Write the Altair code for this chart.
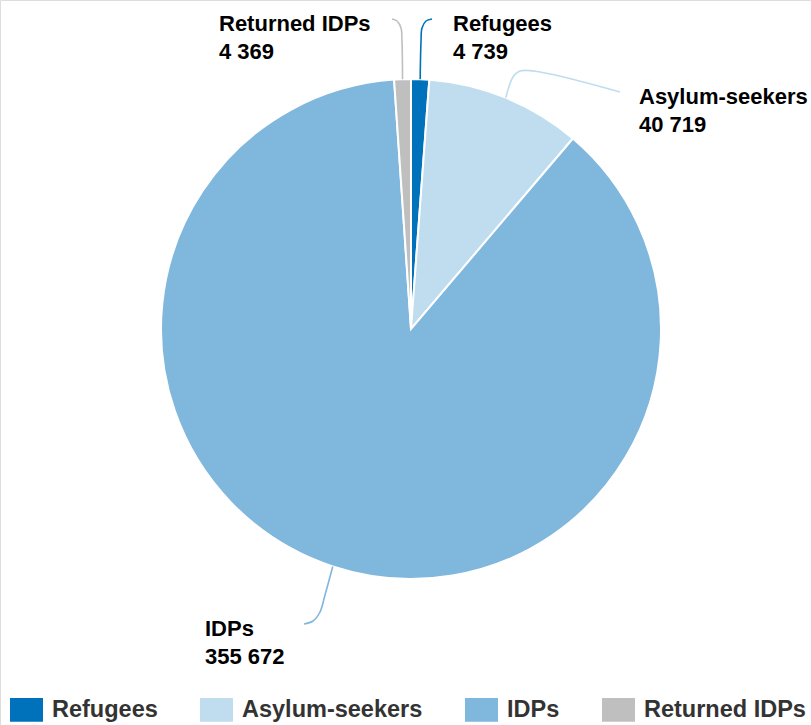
import altair as alt
import pandas as pd
import numpy as np

# ---- data ----
categories = ["Refugees", "Asylum-seekers", "IDPs", "Returned IDPs"]
values = [4739, 40719, 355672, 4369]
colors = ["#0072BC", "#BFDDEE", "#80B7DC", "#BFBFBF"]

# ---- layout (pixel positions, not data) ----
CX, CY, R = 411, 329, 250
label_pos = {  # left x, first-line baseline y
    "Refugees": (453, 31),
    "Asylum-seekers": (639, 104),
    "IDPs": (205, 636),
    "Returned IDPs": (219, 31),
}
# connector bend points after the slice's outer edge point
connector_tail = {
    "Refugees": [(421, 42), (422, 28), (426, 21), (432, 19)],
    "Asylum-seekers": [(513, 77), (520, 71), (540, 72), (620, 92)],
    "IDPs": [(325, 595), (320, 612), (313, 621), (304, 624)],
    "Returned IDPs": [(402, 42), (401, 28), (397, 21), (392, 19)],
}

def fmt(v):
    return f"{v:,}".replace(",", " ")

df = pd.DataFrame({"cat": categories, "val": values, "idx": range(len(categories))})

# mid-angle of each slice -> starting point of each connector
total = sum(values)
cum = np.cumsum([0] + values)
rows = []
for i, c in enumerate(categories):
    mid = (cum[i] + cum[i + 1]) / 2 / total * 2 * np.pi
    sx, sy = CX + R * np.sin(mid), CY - R * np.cos(mid)
    pts = [(sx, sy)] + connector_tail[c]
    for k, (px, py) in enumerate(pts):
        rows.append({"cat": c, "k": k, "px": px, "py": py})
conn = pd.DataFrame(rows)

labels = pd.DataFrame({
    "cat": categories,
    "txt": [f"{c}\n{fmt(v)}" for c, v in zip(categories, values)],
    "lx": [label_pos[c][0] for c in categories],
    "ly": [label_pos[c][1] for c in categories],
})

color_scale = alt.Scale(domain=categories, range=colors)

pie = alt.Chart(df).mark_arc(outerRadius=R, stroke="white", strokeWidth=2).encode(
    theta=alt.Theta("val:Q", stack=True),
    order=alt.Order("idx:Q"),
    x=alt.value(CX),
    y=alt.value(CY),
    color=alt.Color(
        "cat:N",
        scale=color_scale,
        legend=alt.Legend(
            title=None,
            orient="none",
            direction="horizontal",
            legendX=10,
            legendY=693,
            symbolType="M-1,-0.72L1,-0.72L1,0.72L-1,0.72Z",
            symbolSize=1089,
            symbolStrokeWidth=0,
            labelFont="Liberation Sans",
            labelFontWeight="bold",
            labelFontSize=23.5,
            labelColor="#333333",
            labelOffset=9,
            columnPadding=42,
            padding=0,
            labelLimit=400,
        ),
    ),
)

lines = alt.Chart(conn).mark_line(interpolate="catmull-rom", strokeWidth=1.6).encode(
    x=alt.X("px:Q", scale=None),
    y=alt.Y("py:Q", scale=None),
    order=alt.Order("k:Q"),
    detail="cat:N",
    color=alt.Color("cat:N", scale=color_scale, legend=None),
)

texts = alt.Chart(labels).mark_text(
    align="left", baseline="alphabetic", lineBreak="\n", lineHeight=28,
    font="Liberation Sans", fontWeight="bold", fontSize=22, color="black",
).encode(
    x=alt.X("lx:Q", scale=None),
    y=alt.Y("ly:Q", scale=None),
    text="txt:N",
)

chart = alt.layer(pie, lines, texts).properties(
    width=811, height=725, autosize=alt.AutoSizeParams(type="none"), padding=0,
).configure_view(stroke=None).configure(background="white")

chart.save("out.html", embed_options={"renderer": "svg", "actions": False})
